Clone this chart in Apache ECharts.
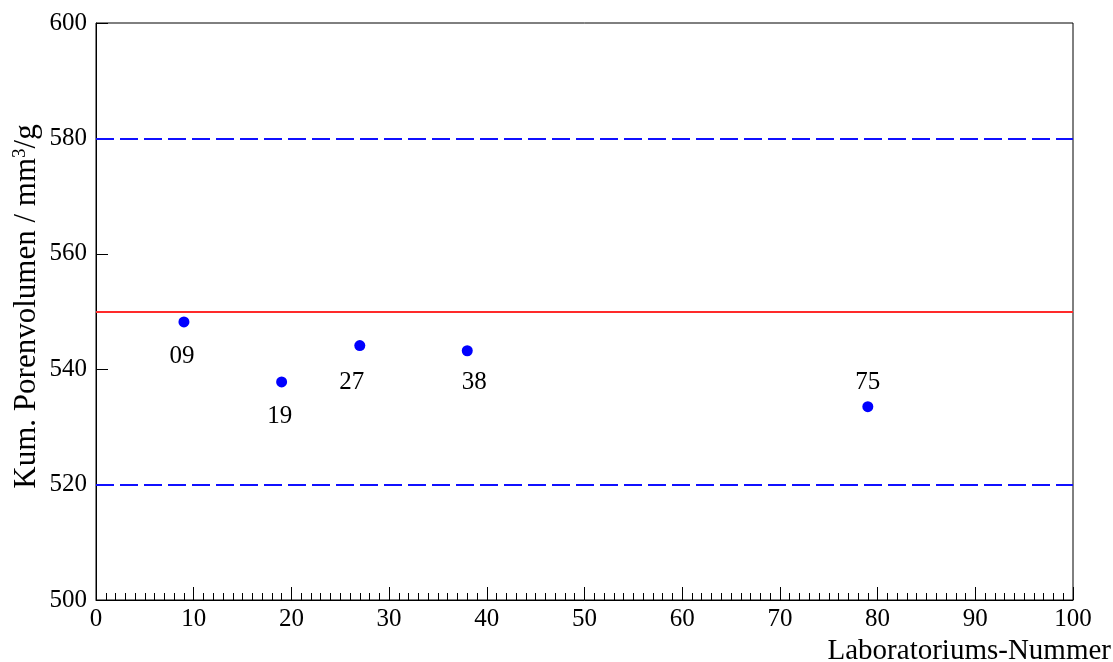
<!DOCTYPE html>
<html>
<head>
<meta charset="utf-8">
<script src="https://cdn.jsdelivr.net/npm/echarts@6/dist/echarts.min.js"></script>
<style>
  html, body { margin: 0; padding: 0; background: #fff; }
  #chart { width: 1113px; height: 662px; }
</style>
</head>
<body>
<div id="chart"></div>
<script>
// Laboratory results: x = position on the lab axis, y = cumulative pore volume
const labX = [9, 19, 27, 38, 79];
const poreVolume = [548.2, 537.8, 544.1, 543.2, 533.5];
const labNames = ['09', '19', '27', '38', '75'];

// Reference value and tolerance limits
const referenceValue = 550;
const lowerLimit = 520;
const upperLimit = 580;

// Label placement for each lab (layout only)
const labelPos = ['bottom', 'bottom', 'bottom', 'bottom', 'top'];
const labelShift = [[-2, 2], [-2, 2], [-8, 4], [7, -1], [0, 0]];

const FONT = 'Liberation Serif';

const points = labX.map((x, i) => ({
  value: [x, poreVolume[i]],
  name: labNames[i],
  label: {
    position: labelPos[i],
    offset: labelShift[i],
    distance: labelPos[i] === 'top' ? 6 : 15
  }
}));

const chart = echarts.init(document.getElementById('chart'), null, { renderer: 'canvas' });

chart.setOption({
  animation: false,
  backgroundColor: '#fff',
  grid: {
    left: 96, right: 40, top: 23, bottom: 62,
    outerBoundsMode: 'none',
    containLabel: false,
    show: true, borderColor: '#000', borderWidth: 1
  },
  xAxis: {
    type: 'value',
    min: 0, max: 100, interval: 10,
    name: 'Laboratoriums-Nummer',
    nameLocation: 'end',
    nameGap: 38,
    nameMoveOverlap: false,
    nameTextStyle: {
      fontFamily: FONT, fontSize: 29, color: '#000',
      align: 'right', verticalAlign: 'top', padding: [37, 0, 0, 0]
    },
    axisLine: { lineStyle: { color: '#000', width: 1 } },
    axisTick: { inside: true, length: 13, lineStyle: { color: '#000' } },
    minorTick: { show: true, splitNumber: 10, length: 7, lineStyle: { color: '#000' } },
    axisLabel: { fontFamily: FONT, fontSize: 25, color: '#000', margin: 7 },
    splitLine: { show: false }
  },
  yAxis: {
    type: 'value',
    min: 500, max: 600, interval: 20,
    name: '{t|Kum. Porenvolumen / mm}{s|3}{t|/g}',
    nameLocation: 'middle',
    nameRotate: 90,
    nameGap: 52,
    nameMoveOverlap: false,
    nameTextStyle: {
      padding: [0, 0, 0, 10],
      rich: {
        t: { fontFamily: FONT, fontSize: 31, color: '#000', lineHeight: 34 },
        s: { fontFamily: FONT, fontSize: 19, color: '#000', lineHeight: 34, padding: [0, 0, 14, 0] }
      }
    },
    axisLine: { lineStyle: { color: '#000', width: 1 } },
    axisTick: { inside: true, length: 12, lineStyle: { color: '#000' } },
    axisLabel: { fontFamily: FONT, fontSize: 25, color: '#000', margin: 9 },
    splitLine: { show: false }
  },
  series: [
    {
      type: 'scatter',
      data: points,
      symbol: 'circle',
      symbolSize: 11,
      itemStyle: { color: '#0000ff', opacity: 1 },
      label: {
        show: true,
        formatter: p => p.name,
        fontFamily: FONT, fontSize: 25, color: '#000', opacity: 1
      },
      markLine: {
        silent: true,
        symbol: 'none',
        label: { show: false },
        data: [
          { yAxis: referenceValue, lineStyle: { color: '#ff2a2a', width: 2, type: 'solid', opacity: 1 } },
          { yAxis: upperLimit, lineStyle: { color: '#1010ff', width: 2, type: [18, 6], opacity: 1 } },
          { yAxis: lowerLimit, lineStyle: { color: '#1010ff', width: 2, type: [18, 6], opacity: 1 } }
        ]
      }
    }
  ]
});
</script>
</body>
</html>
